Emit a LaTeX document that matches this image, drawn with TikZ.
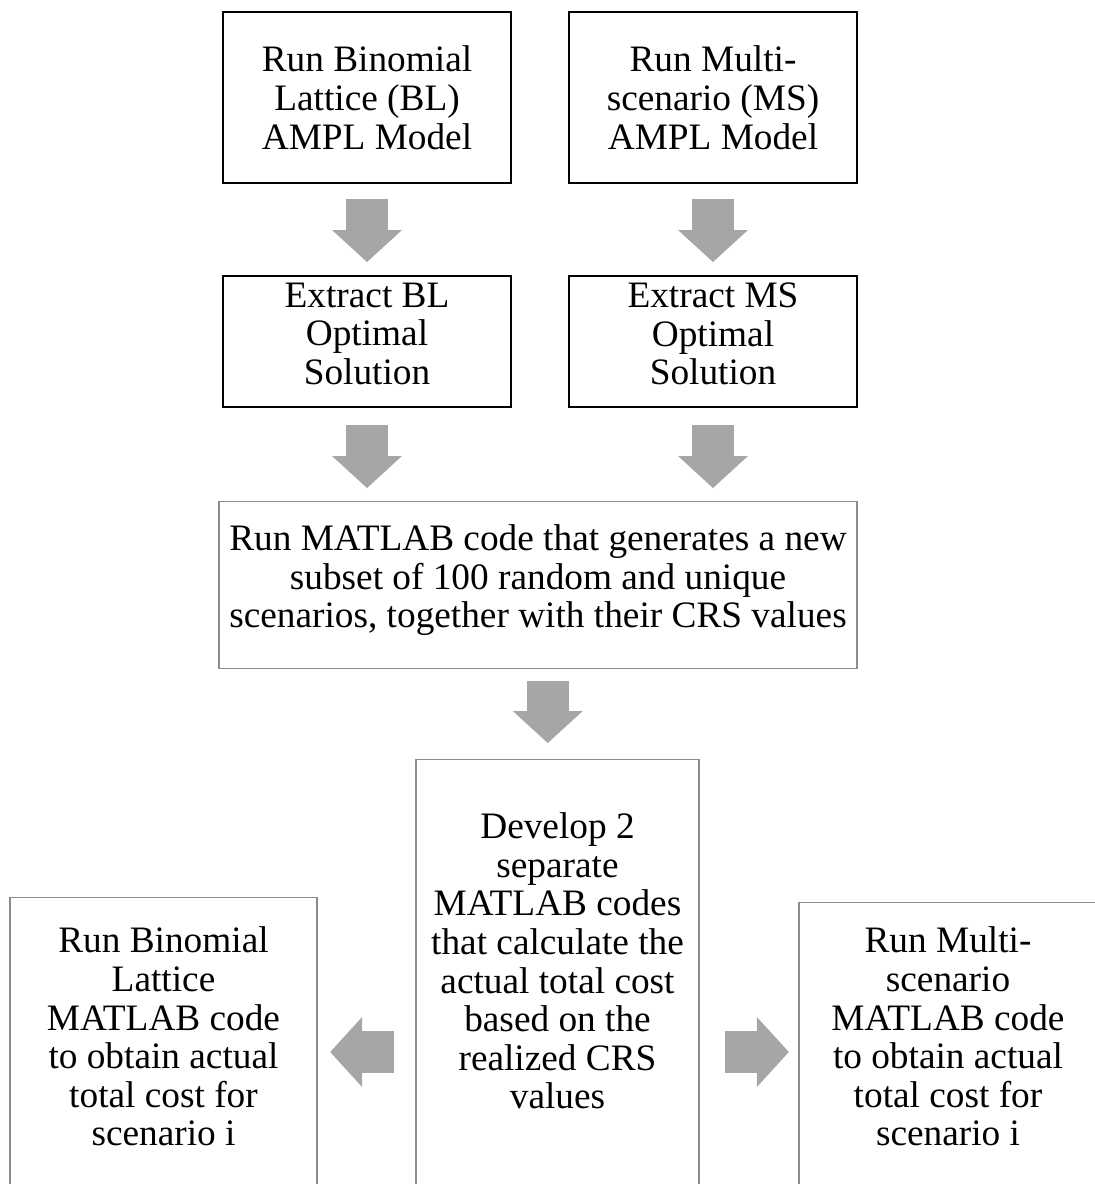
\documentclass[tikz,border=0pt]{standalone}
\usepackage{fontspec}
\setmainfont{Liberation Serif}
\usetikzlibrary{arrows.meta, calc}

\definecolor{arrowgray}{RGB}{166,166,166}
\newcommand{\padb}[1]{\rule[-#1]{0pt}{#1}}

\begin{document}
\begin{tikzpicture}[x=1pt, y=-1pt,
    box/.style={rectangle, align=center, anchor=north, inner sep=0pt,
                font=\fontsize{37.3pt}{38.6pt}\selectfont},
    main box/.style={box, draw=black, line width=2.4pt},
    sub box/.style={box, draw=black!45, line width=1.3pt},
    fat arrow/.style={draw=arrowgray, line width=42pt,
                      -{Triangle[length=32pt, width=70pt, line width=0pt, fill=arrowgray]}}]

    \useasboundingbox (0,0) rectangle (1095,1184);

    % AMPL models
    \node[main box, minimum width=288pt, minimum height=171pt] (blmodel) at (367,11)
        {Run Binomial\\Lattice (BL)\\AMPL Model};
    \node[main box, minimum width=288pt, minimum height=171pt] (msmodel) at (713,11)
        {Run Multi-\\scenario (MS)\\AMPL Model};

    % optimal solutions
    \node[main box, minimum width=288pt, minimum height=131pt] (blsol) at (367,275)
        {Extract BL\\Optimal\\Solution\padb{16pt}};
    \node[main box, minimum width=288pt, minimum height=131pt] (mssol) at (713,275)
        {Extract MS\\Optimal\\Solution\padb{16pt}};

    % scenario generation
    \node[sub box, minimum width=638pt, minimum height=167pt] (gen) at (538,501)
        {Run MATLAB code that generates a new\\subset of 100 random and unique\\scenarios, together with their CRS values\padb{17.5pt}};

    % evaluation
    \node[sub box, minimum width=283pt, minimum height=441pt] (dev) at (557.5,759)
        {Develop 2\\separate\\MATLAB codes\\that calculate the\\actual total cost\\based on the\\realized CRS\\values\padb{38.5pt}};
    \node[sub box, minimum width=307pt, minimum height=303pt] (blrun) at (163.5,897)
        {Run Binomial\\Lattice\\MATLAB code\\to obtain actual\\total cost for\\scenario i\padb{25.5pt}};
    \node[sub box, minimum width=298pt, minimum height=298pt] (msrun) at (948,902)
        {Run Multi-\\scenario\\MATLAB code\\to obtain actual\\total cost for\\scenario i\padb{30.5pt}};

    % block arrows
    \draw[fat arrow, shorten <=15pt, shorten >=13pt] (blmodel.south) -- (blsol.north);
    \draw[fat arrow, shorten <=15pt, shorten >=13pt] (msmodel.south) -- (mssol.north);
    \draw[fat arrow, shorten <=17pt, shorten >=13pt] (blsol.south) -- (blsol.south |- gen.north);
    \draw[fat arrow, shorten <=17pt, shorten >=13pt] (mssol.south) -- (mssol.south |- gen.north);

    \coordinate (mid) at ($(gen.south)!.5!(dev.north)$);
    \draw[fat arrow, shorten <=12pt, shorten >=16pt] (mid |- gen.south) -- (mid |- dev.north);

    \coordinate (hy) at (0,1052);
    \draw[fat arrow, shorten <=21.5pt, shorten >=12.5pt] (dev.west |- hy) -- (blrun.east |- hy);
    \draw[fat arrow, shorten <=25.5pt, shorten >=9.5pt] (dev.east |- hy) -- (msrun.west |- hy);
\end{tikzpicture}
\end{document}
